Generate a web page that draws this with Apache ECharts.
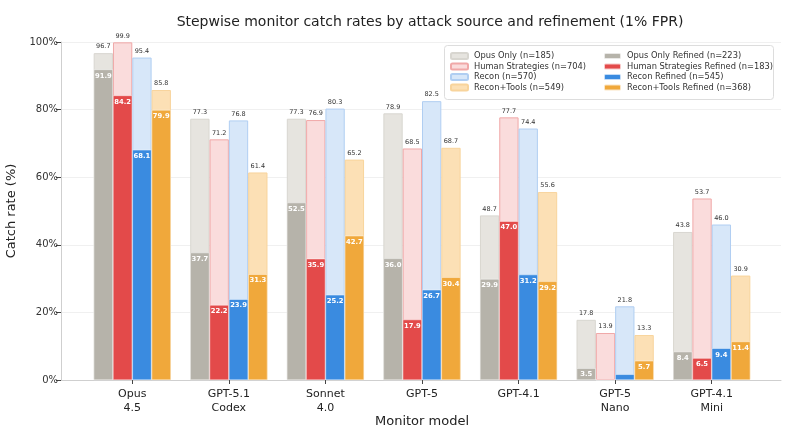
<!DOCTYPE html>
<html><head><meta charset="utf-8">
<script src="https://cdn.jsdelivr.net/npm/echarts@6/dist/echarts.min.js"></script>
<style>html,body{margin:0;padding:0;background:#fff}#c{width:791px;height:434px}</style>
</head><body><div id="c"></div>
<script>
const categories = ['Opus\n4.5','GPT-5.1\nCodex','Sonnet\n4.0','GPT-5','GPT-4.1','GPT-5\nNano','GPT-4.1\nMini'];
const yTicks = [0,20,40,60,80,100];
const opusOnly = [96.7,77.3,77.3,78.9,48.7,17.8,43.8];
const opusOnlyRefined = [91.9,37.7,52.5,36.0,29.9,3.5,8.4];
const human = [99.9,71.2,76.9,68.5,77.7,13.9,53.7];
const humanRefined = [84.2,22.2,35.9,17.9,47.0,0,6.5];
const recon = [95.4,76.8,80.3,82.5,74.4,21.8,46.0];
const reconRefined = [68.1,23.9,25.2,26.7,31.2,1.7,9.4];
const reconTools = [85.8,61.4,65.2,68.7,55.6,13.3,30.9];
const reconToolsRefined = [79.9,31.3,42.7,30.4,29.2,5.7,11.4];

const names = ['Opus Only (n=185)','Human Strategies (n=704)','Recon (n=570)','Recon+Tools (n=549)'];
const namesR = ['Opus Only Refined (n=223)','Human Strategies Refined (n=183)','Recon Refined (n=545)','Recon+Tools Refined (n=368)'];
const lightData = [opusOnly, human, recon, reconTools];
const refData = [opusOnlyRefined, humanRefined, reconRefined, reconToolsRefined];
const lightFill = ['#e6e4df','#fadcdc','#d7e7f9','#fce0b5'];
const lightBorder = ['#d8d6d0','#f0a8a8','#b0cef2','#f8d49c'];
const refFill = ['#b6b3aa','#e34a4a','#3a8be0','#f0a83b'];

const FONT = 'DejaVu Sans';
const series = [];
for (let i = 0; i < 4; i++) {
  series.push({
    name: names[i], type: 'bar', xAxisIndex: 1, yAxisIndex: 1,
    data: lightData[i], barCategoryGap: '20%', barGap: '0%', z: 2,
    itemStyle: { color: lightFill[i], borderColor: lightBorder[i], borderWidth: 1 },
    label: { show: true, position: 'top', distance: 3, fontSize: 6.5, color: '#333', fontFamily: FONT,
      formatter: p => p.value.toFixed(1) }
  });
}
for (let i = 0; i < 4; i++) {
  series.push({
    name: namesR[i], type: 'bar', xAxisIndex: 2, yAxisIndex: 1,
    data: refData[i].map(v => ({ value: v, label: { show: v >= 3 } })),
    barCategoryGap: '20%', barGap: '0%', z: 3,
    itemStyle: { color: refFill[i], borderColor: 'rgba(255,255,255,0.7)', borderWidth: 0.6 },
    label: { show: true, position: 'insideTop', distance: 3, fontSize: 6.8, fontWeight: 'bold', color: '#fff', fontFamily: FONT,
      formatter: p => p.value.toFixed(1) }
  });
}

const chart = echarts.init(document.getElementById('c'), null, { renderer: 'canvas' });
chart.setOption({
  animation: false,
  backgroundColor: '#fff',
  textStyle: { fontFamily: FONT },
  title: { text: 'Stepwise monitor catch rates by attack source and refinement (1% FPR)', left: 425, top: 10, textAlign: 'center',
    textStyle: { fontFamily: FONT, fontSize: 14, fontWeight: 'normal', color: '#222' } },
  graphic: [{ type: 'rect', left: 444, top: 45, shape: { width: 329, height: 54, r: 3 }, z: 50,
    style: { fill: 'rgba(255,255,255,0.85)', stroke: '#ddd', lineWidth: 1 } }],
  legend: [
    { data: names, orient: 'vertical', left: 450, top: 52, padding: 0, itemWidth: 17, itemHeight: 6, itemGap: 2.5, z: 60,
      textStyle: { fontSize: 8.3, color: '#333', fontFamily: FONT, padding: [0,0,0,1] } },
    { data: namesR, orient: 'vertical', left: 603, top: 52, padding: 0, itemWidth: 17, itemHeight: 6, itemGap: 2.5, z: 60,
      textStyle: { fontSize: 8.3, color: '#333', fontFamily: FONT, padding: [0,0,0,1] } }
  ],
  grid: [
    { left: 61, right: 10, top: 42, bottom: 54, outerBoundsMode: 'none', containLabel: false },
    { left: 84, right: 31, top: 42, bottom: 54, outerBoundsMode: 'none', containLabel: false }
  ],
  xAxis: [
    { type: 'value', gridIndex: 0, min: 0, max: 1, axisLine: { show: true, lineStyle: { color: '#cfcfcf', width: 1 } },
      axisTick: { show: false }, axisLabel: { show: false }, splitLine: { show: false } },
    { type: 'category', gridIndex: 1, data: categories, axisLine: { show: false },
      axisTick: { show: true, alignWithLabel: true, length: 4, lineStyle: { color: '#444' } },
      axisLabel: { fontSize: 11, color: '#222', margin: 7, lineHeight: 14, fontFamily: FONT },
      name: 'Monitor model', nameLocation: 'middle', nameGap: 35, nameMoveOverlap: false,
      nameTextStyle: { fontSize: 13, color: '#222', fontFamily: FONT } },
    { type: 'category', gridIndex: 1, data: categories, show: false }
  ],
  yAxis: [
    { type: 'value', gridIndex: 0, min: 0, max: 100, interval: 20,
      axisLine: { show: true, lineStyle: { color: '#cfcfcf' } },
      axisTick: { show: true, length: 5, lineStyle: { color: '#444' } },
      axisLabel: { formatter: v => yTicks.includes(v) ? v + '%' : '', fontSize: 10, color: '#333', margin: 3, fontFamily: FONT },
      splitLine: { show: true, lineStyle: { color: '#f0f0f0' } },
      name: 'Catch rate (%)', nameLocation: 'middle', nameGap: 41,
      nameTextStyle: { fontSize: 13, color: '#222', fontFamily: FONT } },
    { type: 'value', gridIndex: 1, min: 0, max: 100, show: false }
  ],
  series: series
});
</script></body></html>
